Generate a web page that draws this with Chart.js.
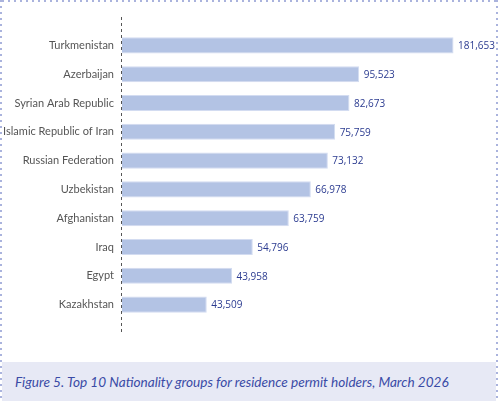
<!DOCTYPE html>
<html>
<head>
<meta charset="utf-8">
<script src="https://cdn.jsdelivr.net/npm/chart.js@4"></script>
<style>
  html, body { margin: 0; padding: 0; background: #fff; }
  #wrap { position: relative; width: 498px; height: 401px; overflow: hidden; }
  #chart { position: absolute; left: 0; top: 0; }
  .dots-h { position: absolute; height: 2px;
    background: linear-gradient(to right, #aab3dd 2px, transparent 2px) 0 0 / 6px 2px repeat-x; }
  .dots-v { position: absolute; width: 2px;
    background: linear-gradient(to bottom, #aab3dd 2px, transparent 2px) 0 0 / 2px 6px repeat-y; }
  #caption { position: absolute; left: 2px; top: 362px; width: 494px; height: 39px;
    background: #e7e9f5; color: #3a4ba6; font: italic 13.6px Lato, sans-serif;
    line-height: 40px; padding-left: 13px; box-sizing: border-box; white-space: nowrap; }
</style>
</head>
<body>
<div id="wrap">
  <canvas id="chart" width="498" height="401"></canvas>
  <div class="dots-h" style="left:2px; top:0; width:494px;"></div>
  <div class="dots-v" style="left:0; top:0; height:401px;"></div>
  <div class="dots-v" style="left:496px; top:0; height:401px;"></div>
  <div id="caption">Figure 5. Top 10 Nationality groups for residence permit holders, March 2026</div>
</div>
<script>
// categories, top to bottom
const countries = ['Turkmenistan', 'Azerbaijan', 'Syrian Arab Republic', 'Islamic Republic of Iran',
  'Russian Federation', 'Uzbekistan', 'Afghanistan', 'Iraq', 'Egypt', 'Kazakhstan'];
// numbers printed next to the bars
const permitHolders = ['181,653', '95,523', '82,673', '75,759', '73,132',
  '66,978', '63,759', '54,796', '43,958', '43,509'];
// bar lengths as drawn in the source (not to scale with the printed numbers),
// expressed in the units of the top bar
const barLengths = [181653, 129950, 124630, 116790, 112790, 103460, 91400, 71660, 60310, 46440];

// dashed axis line, running a bit past the bars like the original
const axisLine = {
  id: 'axisLine',
  afterDatasetsDraw(chart) {
    const { ctx, chartArea } = chart;
    ctx.save();
    ctx.strokeStyle = '#555';
    ctx.lineWidth = 1;
    ctx.setLineDash([3, 3]);
    ctx.beginPath();
    ctx.moveTo(chartArea.left - 0.5, chartArea.top - 14);
    ctx.lineTo(chartArea.left - 0.5, chartArea.bottom + 13);
    ctx.stroke();
    ctx.restore();
  }
};

// value labels at the end of each bar
const valueLabels = {
  id: 'valueLabels',
  afterDatasetsDraw(chart) {
    const { ctx } = chart;
    const meta = chart.getDatasetMeta(0);
    ctx.save();
    ctx.fillStyle = '#2b3b90';
    ctx.font = '10px "Open Sans", sans-serif';
    ctx.textBaseline = 'middle';
    meta.data.forEach((bar, i) => {
      ctx.fillText(permitHolders[i], bar.x + 4.5, bar.y + 1);
    });
    ctx.restore();
  }
};

const ctx = document.getElementById('chart').getContext('2d');
const chart = new Chart(ctx, {
  type: 'bar',
  data: {
    labels: countries,
    datasets: [{
      data: barLengths,
      backgroundColor: '#b3c3e4',
      borderColor: '#d3dcf1',
      borderWidth: 1,
      barPercentage: 0.56,
      categoryPercentage: 1
    }]
  },
  options: {
    indexAxis: 'y',
    responsive: false,
    animation: false,
    layout: { padding: { top: 31, bottom: 82, left: 0, right: 11 } },
    plugins: {
      legend: { display: false },
      tooltip: { enabled: false }
    },
    scales: {
      x: { display: false, min: 0, max: 200000 },
      y: {
        afterFit(scale) { scale.width = 122; },
        grid: { display: false, drawTicks: false },
        border: { display: false },
        ticks: {
          padding: 8,
          color: '#555',
          font: { family: 'Lato', size: 11 }
        }
      }
    }
  },
  plugins: [axisLine, valueLabels]
});
</script>
</body>
</html>
